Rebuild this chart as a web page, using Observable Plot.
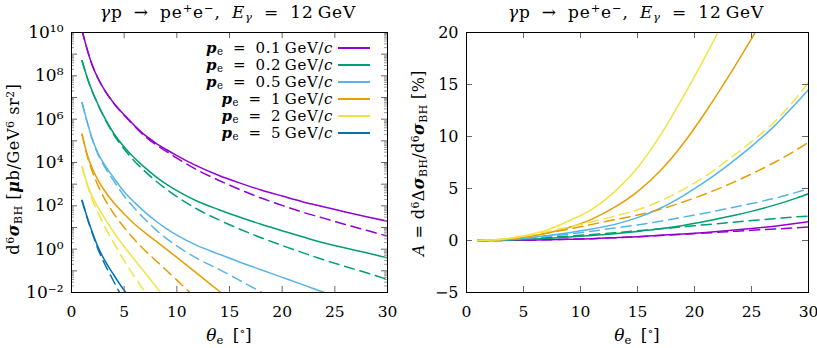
<!DOCTYPE html>
<html><head><meta charset="utf-8">
<script src="https://cdn.jsdelivr.net/npm/d3@7"></script>
<script src="https://cdn.jsdelivr.net/npm/@observablehq/plot@0.6"></script>
<style>
body{margin:0;background:#fff;}
#fig{position:relative;width:817px;height:348px;font-family:"DejaVu Serif",serif;color:#000;overflow:hidden;}
.panel{position:absolute;top:0;}
.t{position:absolute;white-space:nowrap;font-size:16px;line-height:1;}
.c{transform:translateX(-50%);}
.rot{transform:translate(-50%,-50%) rotate(-90deg);}
.sp{font-size:68%;vertical-align:0.5em;line-height:0;}
.sb{font-size:68%;vertical-align:-0.25em;line-height:0;}
.bi{font-weight:bold;font-style:italic;}
.ttl{font-size:17px;word-spacing:5px;letter-spacing:0.8px;}
.xl{font-size:17px;word-spacing:4px;}
.yl1{letter-spacing:0.6px;}
.yl2{letter-spacing:0.4px;}
.leg{font-size:15px;word-spacing:4px;letter-spacing:0.6px;}
.legline{position:absolute;width:32px;height:0;border-top:2px solid;}
</style></head>
<body><div id="fig">
<div id="pl" class="panel" style="left:0"></div>
<div id="pr" class="panel" style="left:408px"></div>
</div>
<script>
// ---------- data ----------
const colors = ["#9400d3", "#009e73", "#56b4e9", "#e69f00", "#f0e442", "#0072b2"];
const momenta = ["0.1", "0.2", "0.5", "1", "2", "5"];

// left panel: d6 sigma_BH vs theta (solid = full, dashed = approximation)
const thetaL = [1, 1.5, 2, 2.5, 3, 4, 5, 6, 7, 8, 9, 10, 12, 14, 16, 18, 20, 22, 24, 26, 28, 30];
const p01SolidL = [1.26e10, 1.58e9, 2.82e8, 7.94e7, 2.82e7, 5.62e6, 1.58e6, 5.01e5, 1.78e5, 7.94e4, 3.98e4, 2.09e4, 6.61e3, 2.51e3, 1.12e3, 537, 282, 151, 89.1, 52.5, 31.6, 19.5];
const p01DashL  = [1.26e10, 1.58e9, 2.82e8, 7.94e7, 2.82e7, 5.5e6, 1.51e6, 4.68e5, 1.58e5, 6.76e4, 3.24e4, 1.58e4, 4.37e3, 1.48e3, 562, 229, 105, 50.1, 26.3, 13.8, 7.41, 3.98];
const p02SolidL = [5.01e8, 7.94e7, 1.78e7, 5.01e6, 1.58e6, 2.24e5, 5.25e4, 1.58e4, 5.62e3, 2.24e3, 1000, 501, 158, 66.1, 29.5, 14.1, 7.08, 3.63, 1.91, 1.12, 0.676, 0.398];
const p02DashL  = [5.01e8, 7.94e7, 1.74e7, 4.79e6, 1.48e6, 1.95e5, 4.17e4, 1.12e4, 3.8e3, 1.41e3, 589, 269, 67.6, 22.4, 8.32, 3.39, 1.48, 0.676, 0.316, 0.158, 0.0813, 0.0398];
const p05SolidL = [5.89e6, 7.08e5, 1.12e5, 2.82e4, 1e4, 2e3, 447, 141, 50.1, 20, 8.91, 4.47, 1.41, 0.589, 0.251, 0.112, 0.0501, 0.0224, 0.01, 0.00501];
const p05DashL  = [5.89e6, 6.92e5, 1.05e5, 2.51e4, 8.32e3, 1.45e3, 282, 75.9, 23.4, 7.94, 3.16, 1.41, 0.355, 0.117, 0.0355, 0.0105, 0.00316];
const p1SolidL  = [2e5, 2.24e4, 5.01e3, 1.58e3, 631, 141, 41.7, 14.1, 5.62, 2.4, 1, 0.417, 0.0708, 0.0117, 0.002];
const p1DashL   = [2e5, 2e4, 3.55e3, 891, 282, 44.7, 10, 2.69, 0.851, 0.302, 0.107, 0.0372, 0.00447];
const p2SolidL  = [6.31e3, 1e3, 251, 89.1, 35.5, 6.31, 1.32, 0.316, 0.0794, 0.0191, 0.00447];
const p2DashL   = [6.31e3, 891, 178, 50.1, 15.8, 2, 0.295, 0.0525, 0.01, 0.00191];
const p5SolidL  = [178, 28.2, 5.62, 1.32, 0.417, 0.0661, 0.0126, 0.00316];
const p5DashL   = [178, 26.9, 5.01, 1.05, 0.295, 0.0331, 0.00398];

// right panel: asymmetry A [%] vs theta
const thetaR = [1, 3, 5, 7, 9, 11, 13, 15, 17, 19, 21, 23, 25, 27, 29, 30];
const p01SolidR = [0, 0.01, 0.03, 0.07, 0.12, 0.18, 0.27, 0.37, 0.5, 0.63, 0.78, 0.95, 1.15, 1.38, 1.65, 1.8];
const p01DashR  = [0, 0.01, 0.03, 0.07, 0.12, 0.18, 0.27, 0.37, 0.48, 0.6, 0.72, 0.85, 0.98, 1.1, 1.23, 1.3];
const p02SolidR = [0, 0.03, 0.1, 0.2, 0.33, 0.48, 0.66, 0.87, 1.12, 1.45, 1.85, 2.3, 2.8, 3.4, 4.1, 4.5];
const p02DashR  = [0, 0.05, 0.15, 0.28, 0.42, 0.58, 0.75, 0.93, 1.12, 1.32, 1.52, 1.72, 1.92, 2.1, 2.28, 2.35];
const p05SolidR = [0, 0.05, 0.2, 0.45, 0.75, 1.1, 1.55, 2.2, 3.1, 4.3, 5.7, 7.3, 9.05, 11.0, 13.3, 14.5];
const p05DashR  = [0, 0.05, 0.18, 0.38, 0.62, 0.9, 1.2, 1.5, 1.85, 2.25, 2.65, 3.1, 3.55, 4.05, 4.65, 5.0];
const p1SolidR  = [0, 0.08, 0.3, 0.7, 1.25, 2.05, 3.2, 4.7, 6.7, 9.3, 12.4, 15.8, 19.4, 23.1];
const p1DashR   = [0, 0.1, 0.35, 0.7, 1.1, 1.55, 2.0, 2.45, 3.0, 3.7, 4.5, 5.4, 6.4, 7.5, 8.75, 9.45];
const p2SolidR  = [0, 0.1, 0.45, 1.0, 1.9, 3.0, 4.7, 7.0, 10.1, 13.8, 17.8, 22];
const p2DashR   = [0, 0.12, 0.4, 0.85, 1.3, 1.8, 2.35, 2.95, 3.8, 4.9, 6.2, 7.8, 9.5, 11.4, 13.8, 15.2];

// axis ticks
const xTicks = [0, 5, 10, 15, 20, 25, 30];
const yLabelTicksL = [1e-2, 1e0, 1e2, 1e4, 1e6, 1e8, 1e10];
const yMajorL = [1e-2, 1e-1, 1e0, 1e1, 1e2, 1e3, 1e4, 1e5, 1e6, 1e7, 1e8, 1e9, 1e10];
const yTicksR = [-5, 0, 5, 10, 15, 20];

// ---------- build ----------
const seriesL = [
  [p01SolidL, p01DashL], [p02SolidL, p02DashL], [p05SolidL, p05DashL],
  [p1SolidL, p1DashL], [p2SolidL, p2DashL], [p5SolidL, p5DashL]
];
const seriesR = [
  [p01SolidR, p01DashR], [p02SolidR, p02DashR], [p05SolidR, p05DashR],
  [p1SolidR, p1DashR], [p2SolidR, p2DashR]
];
const rows = (th, vals) => vals.map((v, i) => ({theta: th[i], value: v}));
const DASH = "10,6";

function curveMarks(series, th) {
  const m = [];
  series.forEach(([s, d], i) => {
    m.push(Plot.line(rows(th, s), {x: "theta", y: "value", stroke: colors[i], strokeWidth: 1.5, curve: "monotone-x", clip: true}));
    m.push(Plot.line(rows(th, d), {x: "theta", y: "value", stroke: colors[i], strokeWidth: 1.5, strokeDasharray: DASH, curve: "monotone-x", clip: true}));
  });
  return m;
}

const yMinorL = [];
yMajorL.slice(0, -1).forEach(b => { for (let k = 2; k <= 9; k++) yMinorL.push(b * k); });

const supMap = {"-": "⁻", "0": "⁰", "1": "¹", "2": "²", "3": "³", "4": "⁴", "5": "⁵", "6": "⁶", "7": "⁷", "8": "⁸", "9": "⁹"};
const fmtPow = d => "10" + String(Math.round(Math.log10(d))).replace(/./g, c => supMap[c]);
const fmtNum = d => d < 0 ? "\u2212" + Math.abs(d) : String(d);

const FH = 260, FWL = 316, FWR = 342, TK = 6, TKm = 3, TC = "#666";
const font = {fontFamily: "'DejaVu Serif', serif", fontSize: "16px", background: "white", overflow: "visible"};

const left = Plot.plot({
  width: 408, height: 348, marginLeft: 71, marginRight: 21, marginTop: 32, marginBottom: 56,
  style: font,
  x: {domain: [0, 30]},
  y: {type: "log", domain: [1e-2, 1e10]},
  marks: [
    ...curveMarks(seriesL, thetaL),
    Plot.tickX(xTicks, {x: d => d, insetTop: FH - TK, stroke: TC}),
    Plot.tickX(xTicks, {x: d => d, insetBottom: FH - TK, stroke: TC}),
    Plot.tickY(yMajorL, {y: d => d, insetRight: FWL - TK, stroke: TC}),
    Plot.tickY(yMajorL, {y: d => d, insetLeft: FWL - TK, stroke: TC}),
    Plot.tickY(yMinorL, {y: d => d, insetRight: FWL - TKm, stroke: "#999"}),
    Plot.tickY(yMinorL, {y: d => d, insetLeft: FWL - TKm, stroke: "#999"}),
    Plot.axisX(xTicks, {tickSize: 0, tickPadding: 13, fontSize: 15.5, label: null, tickFormat: d => String(d)}),
    Plot.axisY(yLabelTicksL, {tickSize: 0, tickPadding: 8, fontSize: 17, label: null, tickFormat: fmtPow}),
    Plot.frame({stroke: "black", strokeWidth: 1})
  ]
});
document.getElementById("pl").appendChild(left);

const right = Plot.plot({
  width: 409, height: 348, marginLeft: 58, marginRight: 9, marginTop: 32, marginBottom: 56,
  style: font,
  x: {domain: [0, 30]},
  y: {domain: [-5, 20]},
  marks: [
    ...curveMarks(seriesR, thetaR),
    Plot.tickX(xTicks, {x: d => d, insetTop: FH - TK, stroke: TC}),
    Plot.tickX(xTicks, {x: d => d, insetBottom: FH - TK, stroke: TC}),
    Plot.tickY(yTicksR, {y: d => d, insetRight: FWR - TK, stroke: TC}),
    Plot.tickY(yTicksR, {y: d => d, insetLeft: FWR - TK, stroke: TC}),
    Plot.axisX(xTicks, {tickSize: 0, tickPadding: 13, fontSize: 15.5, label: null, tickFormat: d => String(d)}),
    Plot.axisY(yTicksR, {tickSize: 0, tickPadding: 8, fontSize: 16, label: null, tickFormat: fmtNum}),
    Plot.frame({stroke: "black", strokeWidth: 1})
  ]
});
document.getElementById("pr").appendChild(right);

// ---------- text overlays ----------
const fig = document.getElementById("fig");
function addText(html, x, y, cls, style) {
  const el = document.createElement("div");
  el.className = "t " + cls;
  el.innerHTML = html;
  el.style.left = x + "px";
  el.style.top = y + "px";
  if (style) Object.assign(el.style, style);
  fig.appendChild(el);
  return el;
}
const title = '<i>γ</i>p → pe<span class="sp">+</span>e<span class="sp">−</span>, <i>E</i><span class="sb"><i>γ</i></span> = 12&thinsp;GeV';
addText(title, 228, 4, "c ttl");
addText(title, 636, 4, "c ttl");
const xlab = '<i>θ</i><span class="sb">e</span> [<span class="sp">∘</span>]';
addText(xlab, 229, 327, "c xl");
addText(xlab, 637, 327, "c xl");
addText('d<span class="sp">6</span><span class="bi">σ</span><span class="sb">BH</span> [<span class="bi">μ</span>b/GeV<span class="sp">6</span> sr<span class="sp">2</span>]', 14, 169, "rot yl1");
addText('<i>A</i> = d<span class="sp">6</span>Δ<span class="bi">σ</span><span class="sb">BH</span>/d<span class="sp">6</span><span class="bi">σ</span><span class="sb">BH</span> [%]', 419, 163, "rot yl2");

// legend
momenta.forEach((p, i) => {
  const y = 48 + 17 * i;
  addText('<span class="bi">p</span><span class="sb">e</span> = ' + p + '&thinsp;GeV/<i>c</i>', 333, y, "leg", {transform: "translate(-100%,-50%)"});
  const ln = document.createElement("div");
  ln.className = "legline";
  ln.style.left = "338px";
  ln.style.top = (y - 1) + "px";
  ln.style.borderTopColor = colors[i];
  fig.appendChild(ln);
});
</script>
</body></html>
